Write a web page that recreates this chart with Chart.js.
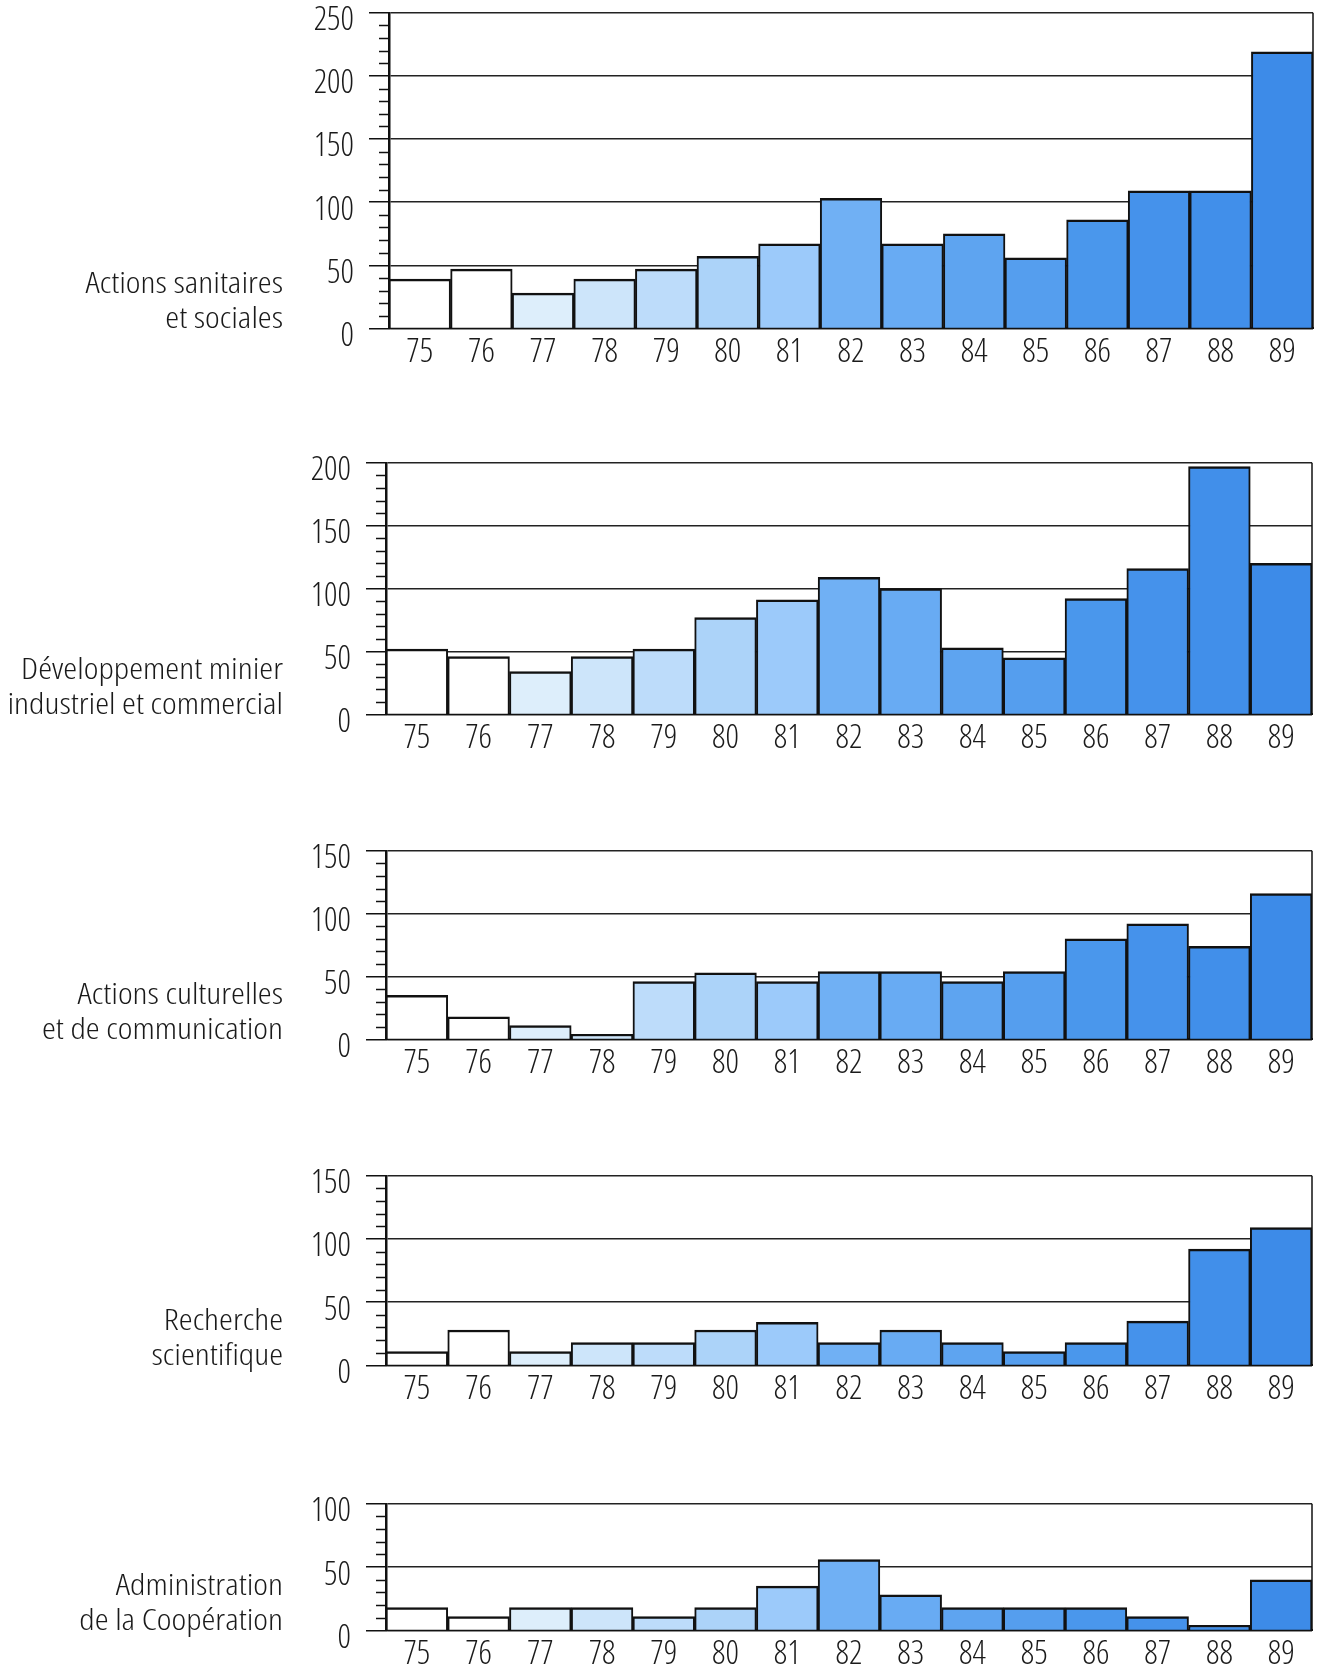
<!DOCTYPE html>
<html lang="fr">
<head>
<meta charset="UTF-8">
<title>Actions par secteur 1975-1989</title>
<script src="https://cdn.jsdelivr.net/npm/chart.js@4"></script>
<style>
  body { margin: 0; background: #fff; width: 1319px; height: 1665px; position: relative; overflow: hidden; }
  .panel { position: absolute; left: 0; width: 1319px; }
</style>
</head>
<body>

<div class="panel" id="p0"><canvas id="c0"></canvas></div>
<div class="panel" id="p1"><canvas id="c1"></canvas></div>
<div class="panel" id="p2"><canvas id="c2"></canvas></div>
<div class="panel" id="p3"><canvas id="c3"></canvas></div>
<div class="panel" id="p4"><canvas id="c4"></canvas></div>

<script>
// years on the x axis
const years = ['75','76','77','78','79','80','81','82','83','84','85','86','87','88','89'];

// one series per sector
const sanitaires   = [39, 47, 28, 39, 47, 57, 67, 103, 67, 75, 56, 86, 109, 109, 219];
const minier       = [52, 46, 34, 46, 52, 77, 91, 109, 100, 53, 45, 92, 116, 197, 120];
const culturelles  = [35, 18, 11, 4, 46, 53, 46, 54, 54, 46, 54, 80, 92, 74, 116];
const recherche    = [11, 28, 11, 18, 18, 28, 34, 18, 28, 18, 11, 18, 35, 92, 109];
const cooperation  = [18, 11, 18, 18, 11, 18, 35, 56, 28, 18, 18, 18, 11, 4, 40];

// sector names, split on two lines
const sectorNames = [
  ['Actions sanitaires', 'et sociales'],
  ['Développement minier', 'industriel et commercial'],
  ['Actions culturelles', 'et de communication'],
  ['Recherche', 'scientifique'],
  ['Administration', 'de la Coopération']
];

// top of each y axis
const axisMax = [250, 200, 150, 150, 100];

// fill colour per year, white then light to dark blue
const yearColors = ['#ffffff', '#ffffff', '#ddeefb', '#cde5fa', '#bddcfa', '#acd3f9', '#9ccafa',
                    '#70b0f4', '#68abf3', '#5ea4f0', '#559eee', '#4a97ec', '#4592eb', '#418fea', '#3d8be8'];

const seriesList = [sanitaires, minier, culturelles, recherche, cooperation];

// page layout: where the top line and the 0 line of each panel sit
const panelTop   = [13, 463, 851, 1176, 1504];
const panelZero  = [329, 715, 1040, 1366, 1631];
const axisLeft   = [389, 386, 386, 386, 386];
const axisRight  = [1313, 1312, 1312, 1312, 1312];

const FAMILY = "'Open Sans', sans-serif";
const TICK_FONT = { family: FAMILY, weight: 'condensed 300', size: 33 };
const TEXT = '#1a1a1a';

// small ticks every 10, right frame line, sector name
const extrasPlugin = {
  id: 'extras',
  afterDraw(chart, args, opts) {
    const ctx = chart.ctx;
    const y = chart.scales.y;
    const area = chart.chartArea;
    ctx.save();
    ctx.strokeStyle = '#111';
    ctx.lineWidth = 1.5;
    for (let v = 10; v < y.max; v += 10) {
      if (v % 50 === 0) continue;
      const py = Math.round(y.getPixelForValue(v)) + 0.5;
      ctx.beginPath();
      ctx.moveTo(area.left - 10, py);
      ctx.lineTo(area.left, py);
      ctx.stroke();
    }
    ctx.beginPath();
    ctx.moveTo(area.right, area.top);
    ctx.lineTo(area.right, area.bottom);
    ctx.stroke();

    // sector label, squeezed a bit to the width of the original lettering
    ctx.fillStyle = TEXT;
    ctx.font = 'condensed 300 29px ' + FAMILY;
    ctx.textAlign = 'right';
    ctx.textBaseline = 'middle';
    const sx = 262 / ctx.measureText('Développement minier').width;
    const zero = y.getPixelForValue(0);
    [zero - 44, zero - 9].forEach((py, k) => {
      ctx.save();
      ctx.translate(283, py);
      ctx.scale(sx, 1);
      ctx.fillText(opts.lines[k], 0, 0);
      ctx.restore();
    });
    ctx.restore();
  }
};

seriesList.forEach((values, i) => {
  const holder = document.getElementById('p' + i);
  const canvas = document.getElementById('c' + i);
  const firstH = (panelZero[i] - panelTop[i]) + 80;
  canvas.width = 1319;
  canvas.height = firstH;

  const chart = new Chart(canvas, {
    type: 'bar',
    data: {
      labels: years,
      datasets: [{
        data: values,
        backgroundColor: yearColors,
        borderColor: '#111',
        borderWidth: { top: 2.5, left: 2, right: 2, bottom: 0 },
        barPercentage: 1,
        categoryPercentage: 1
      }]
    },
    options: {
      responsive: false,
      maintainAspectRatio: false,
      animation: false,
      layout: { padding: { top: 0, right: 1319 - axisRight[i], left: 0, bottom: 0 } },
      plugins: {
        legend: { display: false },
        tooltip: { enabled: false },
        extras: { lines: sectorNames[i] }
      },
      scales: {
        x: {
          grid: { display: false },
          border: { display: true, color: '#111', width: 2 },
          ticks: { color: TEXT, padding: -4, font: TICK_FONT, maxRotation: 0 }
        },
        y: {
          min: 0,
          max: axisMax[i],
          ticks: { stepSize: 50, color: TEXT, padding: 15, labelOffset: 8, font: TICK_FONT },
          grid: { color: '#222', lineWidth: 1.5, tickLength: 20, tickColor: '#111', tickWidth: 1.5 },
          border: { display: true, color: '#111', width: 2.5 },
          afterFit(s) { s.width = axisLeft[i]; }
        }
      }
    },
    plugins: [extrasPlugin]
  });

  // place the canvas so that the plot area lands where the original has it
  const dTop = chart.chartArea.top;
  const dBottom = firstH - chart.chartArea.bottom;
  const h = Math.round(dTop + (panelZero[i] - panelTop[i]) + dBottom);
  chart.resize(1319, h);
  holder.style.top = (panelTop[i] - chart.chartArea.top) + 'px';
  holder.style.height = h + 'px';
});
</script>
</body>
</html>
